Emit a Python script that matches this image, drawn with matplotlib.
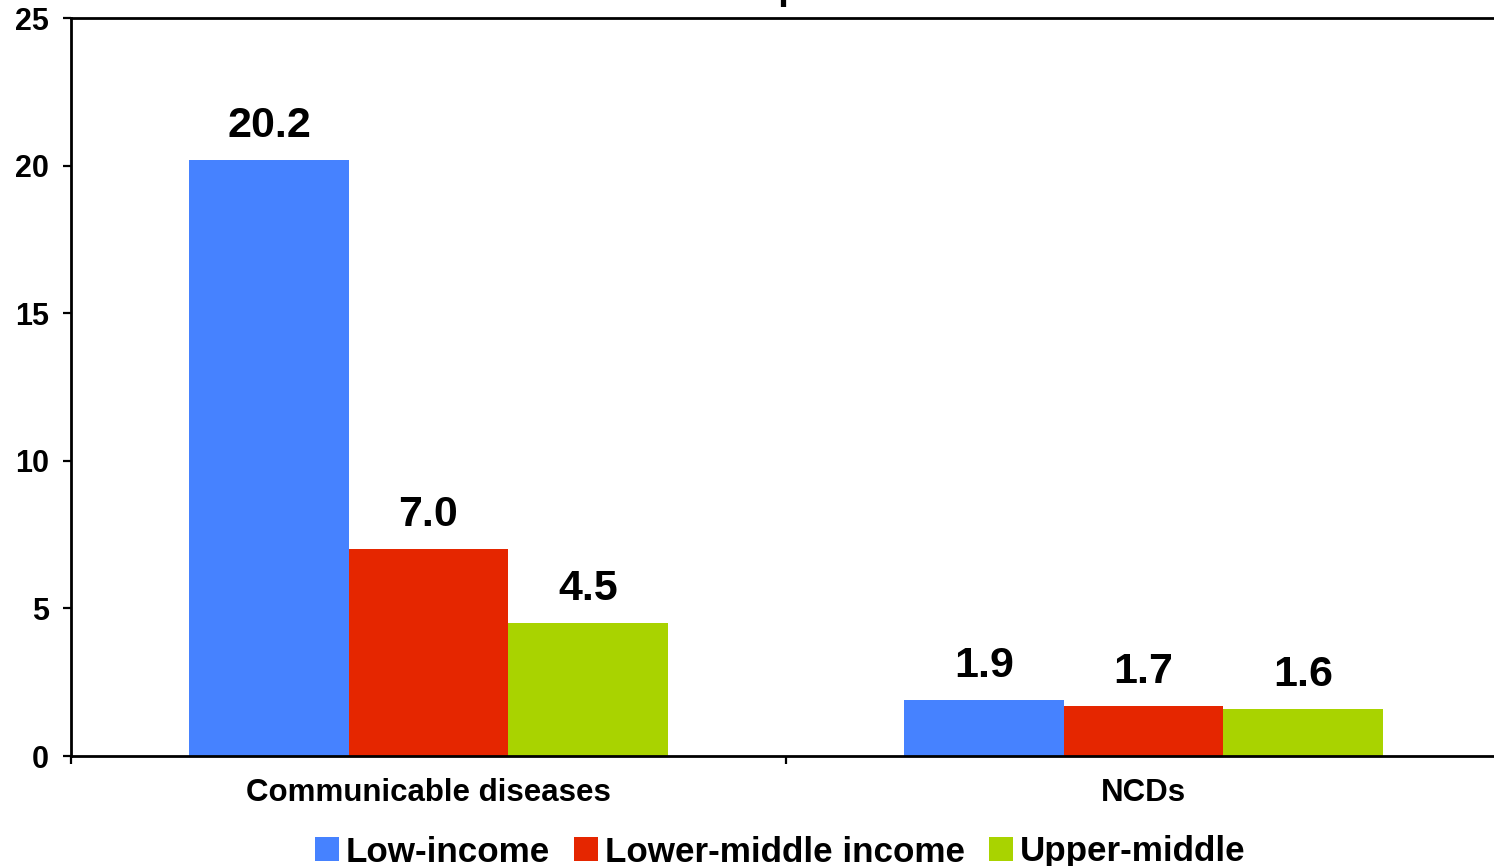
import matplotlib
matplotlib.use("Agg")
import matplotlib.pyplot as plt
import numpy as np

# Ratio of death rates, by cause group and income group
categories = ["Communicable diseases", "NCDs"]
groups = ["Low-income", "Lower-middle income", "Upper-middle"]
low_income = [20.2, 1.9]
lower_middle = [7.0, 1.7]
upper_middle = [4.5, 1.6]
y_ticks = [0, 5, 10, 15, 20, 25]

colors = ["#4682FF", "#E52600", "#A9D300"]
series = [low_income, lower_middle, upper_middle]

plt.rcParams["font.family"] = ["Liberation Sans", "DejaVu Sans"]
plt.rcParams["font.weight"] = "bold"

W, H = 1494, 866
fig = plt.figure(figsize=(W / 100, H / 100), dpi=100)
ax = fig.add_axes([71 / W, 1 - 756 / H, 1430 / W, 738 / H])

x = np.arange(len(categories))
width = 0.223
offsets = [-width, 0.0, width]

for vals, off, col, name in zip(series, offsets, colors, groups):
    ax.bar(x + off, vals, width=width, color=col, label=name, linewidth=0)
    for xi, v in zip(x, vals):
        ax.annotate(f"{v:.1f}", xy=(xi + off, v), xytext=(0, 16.5),
                    textcoords="offset points", ha="center", va="baseline",
                    fontsize=31, fontweight="bold")

ax.set_xlim(-0.5, 1.5)
ax.set_ylim(0, 25)
ax.set_yticks(y_ticks)
ax.set_yticklabels([str(t) for t in y_ticks], fontsize=22, fontweight="bold")
ax.tick_params(axis="y", direction="out", length=6, width=1.6, pad=10)

# category boundaries as major ticks, names on minor ticks
ax.set_xticks([-0.5, 0.5, 1.5])
ax.set_xticklabels([])
ax.set_xticks(x, minor=True)
ax.set_xticklabels(categories, minor=True, fontsize=22.5, fontweight="bold")
ax.tick_params(axis="x", which="major", direction="out", length=6, width=1.6)
ax.tick_params(axis="x", which="minor", length=0, pad=16)

for side in ["left", "bottom", "top"]:
    ax.spines[side].set_linewidth(2)
    ax.spines[side].set_color("black")
ax.spines["right"].set_visible(False)

leg = fig.legend(loc="center", bbox_to_anchor=(780 / W, 1 - 852 / H), ncol=3,
                 frameon=False, prop={"size": 25.2, "weight": "bold"},
                 handlelength=0.69, handleheight=0.69, handletextpad=0.2,
                 columnspacing=0.68, borderpad=0.2)

fig.text(764 / W, 1 + 1 / H,
         "Age-standardised death rates compared with\nthose in developed countries",
         ha="center", va="baseline", multialignment="center",
         fontsize=28, fontweight="bold")

fig.savefig("out.png", dpi=100)
